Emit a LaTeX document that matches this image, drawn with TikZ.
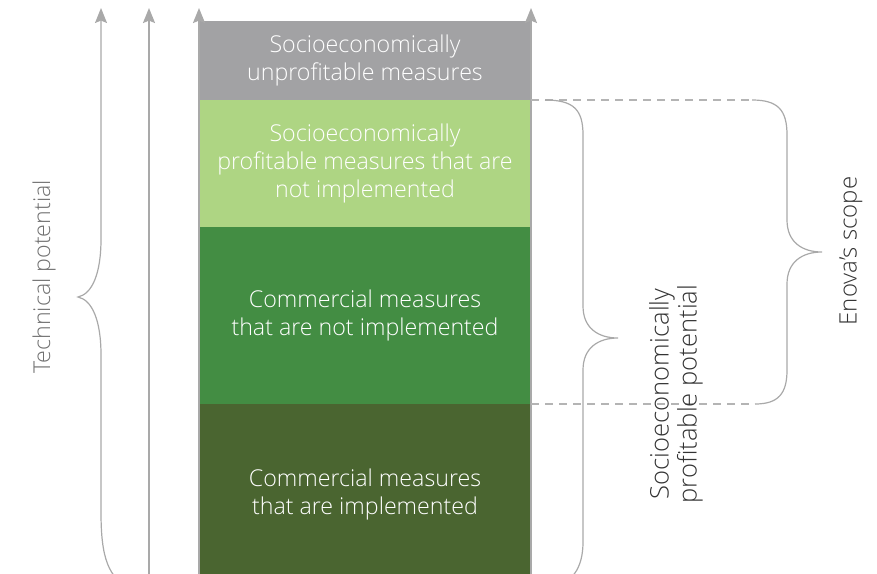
\documentclass[tikz,border=0pt]{standalone}
\usepackage{fontspec}
\setmainfont{Open Sans}[UprightFont=* Light]
\usetikzlibrary{arrows.meta,positioning,calc}
\definecolor{Slate}{HTML}{A2A2A4}
\definecolor{LightLeaf}{HTML}{AED583}
\definecolor{Leaf}{HTML}{438D43}
\definecolor{Moss}{HTML}{4A6530}
\definecolor{Rule}{HTML}{A9A9A9}
\definecolor{DashGray}{HTML}{B4B4B4}
\definecolor{Ink}{HTML}{333333}
\definecolor{SoftInk}{HTML}{707070}
\tikzset{
 layer/.style={minimum width=166pt, inner sep=0pt, outer sep=0pt, align=center, text=white, font=\fontsize{11.6}{14}\selectfont},
 uparrow/.style={-{Stealth[length=7.5pt,width=6pt,inset=1.2pt]}, draw=Rule, line width=0.9pt},
 brace/.style={draw=Rule, line width=0.6pt},
 cutline/.style={draw=DashGray, line width=0.6pt, dash pattern=on 4pt off 3pt},
 rangelabel/.style={rotate=90, align=center, font=\fontsize{11.6}{13.5}\selectfont, text=Ink}
}

\begin{document}
\begin{tikzpicture}[x=0.5pt,y=-0.5pt]
\useasboundingbox (0,0) rectangle (877,573);
\clip (0,0) rectangle (877,573);

% stacked potential
\node[layer,fill=Slate,minimum height=39.5pt,anchor=north west] (unprof) at (199,21) {Socioeconomically\\unprofitable measures};
\node[layer,fill=LightLeaf,minimum height=63.5pt,below=0pt of unprof] (notdone) {Socioeconomically\\profitable measures that are\\not implemented};
\node[layer,fill=Leaf,minimum height=88.5pt,below=0pt of notdone] (commnot) {Commercial measures\\that are not implemented};
\node[layer,fill=Moss,minimum height=90pt,below=0pt of commnot] (commdone) {Commercial measures\\that are implemented};

% arrow ends
\coordinate (tp tip) at (101,8);
\coordinate (tp foot) at (132,590);
\coordinate (mid tip) at (149,8);
\coordinate (mid foot) at (149,600);
\coordinate (left tip) at (199,8);
\coordinate (left foot) at (199,600);
\coordinate (right tip) at (531,8);
\coordinate (right foot) at (531,600);
\coordinate (sp top) at (545,100);
\coordinate (sp foot) at (550,585);
\coordinate (en top) at (752,100);
\coordinate (en foot) at (755,404);

\draw[uparrow] (mid foot) -- (mid tip);
\draw[uparrow] (left foot) -- (left tip);
\draw[uparrow] (right foot) -- (right tip);

% technical potential brace, open at the top
\draw[brace,uparrow,line width=0.6pt] (tp foot) .. controls (108,578) and (101,558) .. (101,512)
 -- (101,355) .. controls (101,320) and (92,300) .. (78,297)
 .. controls (92,294) and (101,274) .. (101,239) -- (tp tip);

% scope limits
\draw[cutline] (notdone.north east) -- (en top);
\draw[cutline] (commdone.north east) -- (en foot);

\draw[brace] (sp top) .. controls (574,100) and (583,110) .. (583,135)
 -- (583,306) .. controls (583,328) and (598,338) .. (618,338)
 .. controls (598,338) and (583,348) .. (583,370)
 -- (583,542) .. controls (583,568) and (572,585) .. (sp foot);

\draw[brace] (en top) .. controls (778,100) and (787,110) .. (787,135)
 -- (787,220) .. controls (787,242) and (802,252) .. (822,252)
 .. controls (802,252) and (787,262) .. (787,284)
 -- (787,370) .. controls (787,394) and (778,404) .. (en foot);

\node[rangelabel,text=SoftInk] (tplabel) at (44,277) {Technical potential};
\node[rangelabel,font=\fontsize{12.8}{14}\selectfont] (splabel) at (676,394) {Socioeconomically\\profitable potential};
\node[rangelabel,font=\fontsize{12}{14}\selectfont] (enlabel) at (851,251) {Enova’s scope};
\end{tikzpicture}
\end{document}
